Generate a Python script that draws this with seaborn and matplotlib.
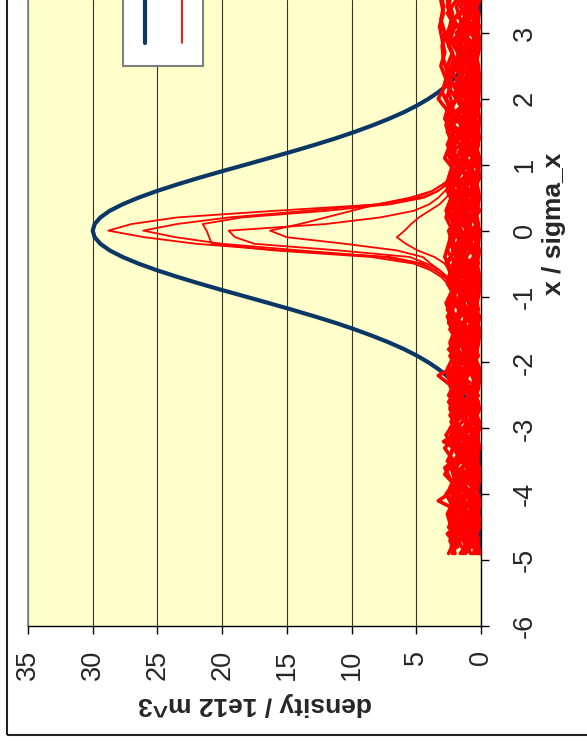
import matplotlib
matplotlib.use("Agg")
import matplotlib.pyplot as plt
from matplotlib.lines import Line2D
from matplotlib.patches import Rectangle
import pandas as pd
import seaborn as sns

# analytic beam profile (blue), x / sigma_x vs density
blue_pos = [-4.9, -4.5, -4.0, -3.5, -3.0, -2.5, -2.4, -2.3, -2.2, -2.1, -2.0, -1.9, -1.8, -1.7,
            -1.6, -1.5, -1.4, -1.3, -1.2, -1.1, -1.0, -0.9, -0.8, -0.7, -0.6, -0.5, -0.4, -0.3,
            -0.2, -0.1, 0.0, 0.1, 0.2, 0.3, 0.4, 0.5, 0.6, 0.7, 0.8, 0.9, 1.0, 1.1, 1.2, 1.3,
            1.4, 1.5, 1.6, 1.7, 1.8, 1.9, 2.0, 2.1, 2.2, 2.3, 2.4, 2.5, 3.0, 3.5, 4.0]
blue_density = [0.0, 0.0, 0.01, 0.07, 0.33, 1.32, 1.68, 2.13, 2.67, 3.30, 4.06, 4.93, 5.93, 7.08,
                8.35, 9.74, 11.24, 12.88, 14.60, 16.39, 18.20, 20.04, 21.81, 23.49, 25.06, 26.47,
                27.69, 28.69, 29.41, 29.85, 30.00, 29.85, 29.41, 28.69, 27.69, 26.47, 25.06, 23.49,
                21.81, 20.04, 18.20, 16.39, 14.60, 12.88, 11.24, 9.74, 8.35, 7.08, 5.93, 4.93,
                4.06, 3.30, 2.67, 2.13, 1.68, 1.32, 0.33, 0.07, 0.01]

# sample positions of the simulated runs (red)
pos_a = [-4.9, -4.7, -4.5, -4.3, -4.1, -3.9, -3.7, -3.5, -3.3, -3.1, -2.9, -2.7, -2.5, -2.3, -2.1,
         -1.9, -1.7, -1.5, -1.3, -1.1, -0.9, -0.7, -0.5, -0.3, -0.1, 0.1, 0.3, 0.5, 0.7, 0.9,
         1.1, 1.3, 1.5, 1.7, 1.9, 2.1, 2.3, 2.5, 2.7, 2.9, 3.1, 3.3, 3.5]
pos_b = [-4.8, -4.6, -4.4, -4.2, -4.0, -3.8, -3.6, -3.4, -3.2, -3.0, -2.8, -2.6, -2.4, -2.2, -2.0,
         -1.8, -1.6, -1.4, -1.2, -1.0, -0.8, -0.6, -0.4, -0.2, 0.0, 0.2, 0.4, 0.6, 0.8, 1.0,
         1.2, 1.4, 1.6, 1.8, 2.0, 2.2, 2.4, 2.6, 2.8, 3.0, 3.2, 3.4, 3.6]
pos_c = [-0.9, -0.8, -0.7, -0.6, -0.5, -0.4, -0.3, -0.2, -0.1, 0.0, 0.1, 0.2, 0.3, 0.4, 0.5,
         0.6, 0.7, 0.8, 0.9]

red_01 = [1.2, 0.4, 1.9, 0.8, 2.1, 0.3, 1.5, 2.2, 0.6, 1.1, 2.0, 0.5, 1.7, 0.9, 2.3, 0.4, 1.3, 1.8,
          0.7, 2.1, 1.0, 0.3, 1.6, 2.2, 0.8, 1.4, 0.5, 2.0, 1.1, 0.6, 1.9, 1.3, 0.4, 2.2, 0.9, 1.5,
          0.3, 1.8, 1.0, 2.1, 0.6, 1.4, 0.8]
red_02 = [0.3, 0.8, 0.2, 0.6, 1.0, 0.4, 0.1, 0.7, 0.3, 0.9, 0.5, 0.2, 0.8, 0.4, 1.1, 0.3, 0.6, 0.2,
          0.9, 0.5, 0.1, 0.7, 0.4, 1.0, 0.3, 0.6, 0.2, 0.8, 0.5, 0.1, 0.9, 0.4, 0.7, 0.2, 0.6, 1.0,
          0.3, 0.5, 0.1, 0.8, 0.4, 0.7, 0.3]
red_03 = [2.0, 2.4, 1.6, 2.5, 1.9, 2.2, 1.4, 2.6, 2.1, 1.7, 2.3, 1.5, 2.5, 2.0, 1.8, 2.4, 1.6, 2.2,
          2.6, 1.9, 2.3, 1.5, 2.7, 2.0, 2.4, 1.7, 2.5, 1.9, 2.2, 1.6, 2.4, 2.0, 2.6, 1.8, 2.3, 1.5,
          2.5, 2.1, 1.7, 2.4, 2.0, 2.6, 1.9]
red_04 = [1.1, 1.7, 0.6, 1.4, 2.0, 0.9, 1.5, 0.5, 1.8, 1.2, 0.7, 1.9, 1.0, 1.6, 0.6, 2.1, 1.3, 0.8,
          1.7, 1.1, 0.5, 1.8, 1.4, 0.9, 2.0, 1.2, 0.7, 1.6, 1.0, 1.9, 0.6, 1.5, 1.1, 2.0, 0.8, 1.3,
          1.7, 0.6, 1.4, 1.9, 1.0, 1.6, 0.9]
red_05 = [1.6, 0.9, 2.2, 1.3, 3.3, 1.8, 0.7, 1.5, 2.0, 0.4, 1.2, 1.9, 0.8, 2.2, 1.4, 0.6, 1.7, 1.1,
          2.0, 0.5, 1.5, 1.0, 1.8, 0.7, 1.3, 2.1, 0.9, 1.6, 0.4, 1.4, 2.0, 0.8, 1.7, 1.2, 0.5, 1.9,
          1.1, 0.7, 1.6, 2.2, 0.9, 1.3, 0.6]
red_06 = [0.7, 1.3, 1.9, 0.5, 1.1, 1.6, 0.3, 1.2, 2.9, 1.0, 0.6, 1.4, 2.0, 3.3, 1.5, 0.8, 1.2, 0.4,
          1.7, 1.0, 1.5, 0.6, 1.9, 1.2, 0.8, 1.4, 2.0, 0.5, 1.1, 1.7, 0.9, 0.3, 1.3, 1.8, 0.7, 1.2,
          0.5, 1.6, 2.0, 0.8, 1.4, 0.6, 1.1]
red_07 = [0.5, 0.2, 0.9, 0.4, 0.7, 0.2, 1.0, 0.5, 0.3, 0.8, 0.2, 0.6, 1.0, 0.3, 0.7, 0.4, 0.2, 0.9,
          0.5, 0.3, 0.8, 0.2, 0.6, 0.4, 1.0, 0.3, 0.7, 0.2, 0.5, 0.9, 0.3, 0.6, 0.2, 0.8, 0.4, 0.2,
          0.7, 0.5, 0.9, 0.3, 0.6, 0.2, 0.5]
red_08 = [1.9, 2.3, 1.5, 2.1, 2.6, 1.8, 2.2, 1.6, 2.4, 2.0, 1.7, 2.5, 1.9, 2.2, 1.6, 2.3, 2.0, 1.8,
          2.6, 2.1, 1.7, 2.4, 1.9, 2.2, 2.5, 1.8, 2.1, 2.6, 1.9, 2.3, 2.0, 2.4, 2.7, 2.5, 3.3, 2.8,
          2.6, 2.9, 3.0, 2.8, 3.1, 2.9, 3.1]
red_09 = [1.4, 0.8, 1.2, 1.8, 0.6, 1.3, 2.0, 1.0, 0.5, 1.6, 1.1, 2.1, 0.7, 1.3, 1.8, 1.0, 0.6, 1.5,
          1.2, 1.9, 0.8, 1.4, 1.0, 1.7, 0.6, 1.2, 1.8, 1.0, 2.0, 0.7, 1.3, 1.6, 1.0, 0.6, 1.5, 2.0,
          1.2, 0.8, 1.4, 1.0, 1.8, 0.7, 1.3]
red_10 = [0.9, 0.4, 1.3, 0.7, 0.2, 1.1, 0.6, 1.4, 0.3, 0.9, 1.2, 0.5, 0.8, 0.2, 1.0, 0.6, 1.3, 0.4,
          0.8, 1.1, 0.3, 0.9, 0.6, 0.2, 1.2, 0.7, 0.4, 1.0, 1.3, 0.5, 0.8, 1.1, 0.3, 0.7, 1.2, 0.4,
          0.9, 1.3, 0.6, 0.2, 1.0, 0.5, 0.8]
red_11 = [2.2, 1.7, 2.5, 2.0, 2.4, 1.8, 2.8, 2.1, 2.8, 1.9, 2.3, 1.6, 2.1, 2.5, 1.9, 2.2, 1.7, 2.4,
          2.0, 2.5, 1.8, 2.3, 2.6, 2.0, 2.2, 1.9, 2.5, 2.1, 2.7, 2.3, 2.0, 2.6, 2.2, 2.8, 2.5, 3.0,
          2.7, 3.1, 2.8, 3.0, 3.2, 2.9, 3.1]
red_12 = [1.5, 2.0, 1.0, 1.7, 1.2, 2.2, 0.8, 1.6, 1.3, 1.9, 1.0, 1.5, 2.1, 1.2, 1.8, 0.9, 1.4, 2.0,
          1.1, 1.6, 1.9, 1.2, 1.7, 1.0, 1.5, 2.1, 1.3, 0.9, 1.8, 1.4, 2.2, 1.0, 1.6, 1.3, 1.9, 1.1,
          1.7, 1.4, 2.1, 1.2, 1.6, 1.9, 1.3]
red_13 = [0.3, 0.6, 0.1, 0.5, 0.9, 0.3, 0.6, 0.2, 0.8, 0.4, 0.1, 0.7, 0.3, 0.5, 0.9, 0.2, 0.6, 0.3,
          0.1, 0.7, 0.4, 0.8, 0.2, 0.5, 0.3, 0.9, 0.1, 0.6, 0.4, 0.2, 0.7, 0.3, 0.9, 0.5, 0.1, 0.4,
          0.8, 0.2, 0.6, 0.3, 0.7, 0.4, 0.2]
red_14 = [1.8, 2.6, 1.4, 2.0, 1.6, 2.3, 2.8, 1.5, 2.1, 1.7, 2.4, 1.3, 1.9, 2.2, 1.6, 2.5, 1.4, 2.0,
          1.7, 2.3, 1.5, 2.1, 1.8, 2.4, 1.6, 2.0, 2.3, 1.5, 2.2, 1.8, 2.5, 1.7, 2.1, 2.4, 1.9, 2.6,
          2.2, 2.0, 2.5, 2.3, 2.1, 2.6, 2.4]
red_15 = [0.8, 1.3, 0.5, 1.0, 1.5, 0.7, 0.4, 1.2, 0.9, 1.6, 0.5, 1.1, 0.4, 1.4, 0.8, 1.2, 1.6, 0.6,
          1.0, 0.4, 1.3, 0.7, 1.1, 1.5, 0.5, 0.9, 1.4, 0.6, 1.2, 1.0, 0.5, 1.5, 0.8, 1.1, 0.4, 1.3,
          0.6, 1.0, 0.5, 1.4, 0.8, 1.2, 0.6]
red_16 = [2.3, 1.9, 2.4, 2.1, 2.7, 2.0, 2.3, 1.8, 2.5, 2.2, 1.9, 2.4, 2.1, 2.6, 2.0, 2.3, 1.8, 2.5,
          2.2, 2.0, 2.6, 2.3, 2.8, 2.5, 2.2, 2.7, 2.4, 2.1, 2.5, 2.2, 2.6, 2.0, 2.4, 2.2, 2.7, 2.3,
          2.5, 2.1, 2.4, 2.6, 2.2, 2.5, 2.3]
red_17 = [0.6, 0.2, 0.4, 0.8, 0.3, 0.5, 0.1, 0.4, 0.7, 0.2, 0.5, 0.3, 0.8, 0.1, 0.4, 0.6, 0.2, 0.5,
          0.8, 0.3, 0.1, 0.5, 0.3, 0.7, 0.2, 0.4, 0.6, 0.1, 0.3, 0.7, 0.5, 0.2, 0.4, 0.1, 0.6, 0.3,
          0.5, 0.8, 0.2, 0.4, 0.1, 0.6, 0.3]
red_18 = [1.3, 0.9, 1.7, 1.1, 0.6, 1.8, 1.4, 1.0, 1.9, 0.7, 1.5, 1.2, 0.8, 1.6, 1.1, 1.9, 0.7, 1.3,
          1.0, 1.7, 1.2, 0.8, 1.5, 1.9, 1.1, 0.7, 1.6, 1.3, 0.9, 1.8, 1.2, 1.5, 0.7, 1.4, 1.0, 1.8,
          0.9, 1.2, 1.7, 1.0, 1.4, 0.8, 1.5]
red_19 = [0.2, 1.0, 1.6, 0.4, 1.3, 2.1, 0.9, 0.2, 1.5, 2.3, 0.6, 1.0, 0.2, 1.8, 0.5, 1.4, 2.2, 0.3,
          1.1, 1.6, 0.2, 1.3, 0.7, 2.0, 1.4, 0.2, 1.2, 0.4, 1.7, 2.2, 0.5, 1.0, 1.8, 0.6, 1.2, 0.2,
          1.5, 2.0, 0.4, 1.1, 1.7, 0.2, 1.0]
red_20 = [2.1, 1.2, 0.5, 1.8, 0.9, 0.2, 2.0, 1.3, 0.7, 2.4, 1.5, 0.3, 1.1, 1.9, 0.4, 1.0, 2.2, 1.4,
          0.2, 0.9, 1.8, 2.3, 0.3, 1.5, 0.9, 2.2, 0.6, 1.9, 0.2, 1.1, 1.7, 0.4, 2.3, 1.0, 0.3, 1.6,
          2.2, 0.9, 0.3, 1.5, 2.1, 0.9, 0.4]
red_21 = [0.1, 0.3, 0.6, 0.2, 0.1, 0.4, 0.2, 0.7, 0.1, 0.3, 0.5, 0.1, 0.4, 0.2, 0.1, 0.5, 0.3, 0.1,
          0.4, 0.6, 0.2, 0.1, 0.3, 0.1, 0.5, 0.2, 0.4, 0.1, 0.6, 0.3, 0.1, 0.4, 0.2, 0.1, 0.3, 0.5,
          0.1, 0.2, 0.4, 0.1, 0.3, 0.5, 0.1]
red_22 = [0.2, 0.5, 0.1, 0.3, 0.6, 0.1, 0.4, 0.2, 0.5, 0.1, 0.3, 0.6, 0.2, 0.1, 0.4, 0.3, 0.1, 0.6,
          0.2, 0.4, 0.1, 0.3, 0.5, 0.2, 0.1, 0.4, 0.3, 0.6, 0.1, 0.2, 0.5, 0.1, 0.3, 0.6, 0.2, 0.1,
          0.4, 0.3, 0.1, 0.5, 0.2, 0.4, 0.1]
red_23 = [2.5, 2.0, 2.3, 2.6, 2.1, 2.4, 1.9, 2.5, 2.2, 2.7, 2.0, 2.4, 2.2, 1.9, 2.6, 2.1, 2.4, 2.0,
          2.3, 2.7, 2.2, 2.5, 2.0, 2.6, 2.3, 2.1, 2.7, 2.3, 2.5, 2.0, 2.8, 2.4, 2.1, 2.6, 2.2, 2.5,
          2.3, 2.6, 2.2, 2.7, 2.4, 2.2, 2.6]
red_24 = [1.0, 1.6, 2.2, 1.2, 0.7, 1.5, 2.0, 1.1, 1.7, 0.8, 1.4, 2.2, 1.6, 1.0, 1.3, 2.0, 1.0, 1.6,
          2.3, 1.4, 0.9, 1.7, 1.1, 1.5, 2.1, 1.0, 1.7, 1.2, 2.0, 0.9, 1.4, 1.9, 1.2, 0.8, 1.6, 2.1,
          1.3, 1.8, 1.0, 1.5, 2.2, 1.2, 1.7]

# runs that still show a central spike
peak_1 = [2.0, 2.4, 2.8, 3.6, 4.5, 7.0, 15.5, 22.0, 26.0, 28.8, 27.0, 23.5, 16.0, 7.8, 4.6, 3.4,
          2.6, 2.0, 1.6]
peak_2 = [1.8, 2.2, 2.9, 3.5, 4.8, 7.5, 14.0, 20.0, 23.6, 26.1, 23.5, 19.5, 13.5, 8.0, 5.0, 3.8,
          3.0, 2.3, 1.7]
peak_3 = [2.1, 2.6, 3.1, 3.9, 5.2, 8.5, 16.0, 20.8, 21.0, 21.2, 21.5, 18.5, 12.0, 7.0, 4.4, 3.3,
          2.7, 2.1, 1.8]
peak_4 = [1.9, 2.3, 2.7, 3.2, 4.2, 5.5, 11.0, 17.5, 19.0, 19.5, 12.0, 7.8, 5.2, 4.0, 3.3, 2.8,
          2.4, 2.0, 1.6]
peak_5 = [1.7, 2.1, 2.6, 3.2, 3.9, 4.5, 6.5, 10.5, 15.0, 16.3, 14.0, 12.0, 10.0, 8.0, 5.5, 3.8,
          2.9, 2.2, 1.8]
peak_6 = [1.5, 1.9, 2.2, 2.5, 2.8, 3.6, 4.9, 5.8, 6.5, 5.9, 5.4, 4.8, 4.0, 3.2, 2.7, 2.3, 2.0,
          1.7, 1.4]

density_ticks = [0, 5, 10, 15, 20, 25, 30, 35]
pos_ticks = [-6, -5, -4, -3, -2, -1, 0, 1, 2, 3]

band_runs = [
    (pos_a, red_01), (pos_b, red_02), (pos_a, red_03), (pos_b, red_04), (pos_a, red_05),
    (pos_b, red_06), (pos_a, red_07), (pos_b, red_08), (pos_a, red_09), (pos_b, red_10),
    (pos_a, red_11), (pos_b, red_12), (pos_a, red_13), (pos_b, red_14), (pos_a, red_15),
    (pos_b, red_16), (pos_a, red_17), (pos_b, red_18), (pos_a, red_19), (pos_b, red_20),
    (pos_a, red_21), (pos_b, red_22), (pos_a, red_23), (pos_b, red_24),
]
peak_runs = [(pos_c, peak_1), (pos_c, peak_2), (pos_c, peak_3), (pos_c, peak_4),
             (pos_c, peak_5), (pos_c, peak_6)]


def runs_frame(runs):
    return pd.concat(
        [pd.DataFrame({"pos": p, "density": d, "run": i}) for i, (p, d) in enumerate(runs)],
        ignore_index=True,
    )


band_df = runs_frame(band_runs)
peak_df = runs_frame(peak_runs)
blue_df = pd.DataFrame({"pos": blue_pos, "density": blue_density})

sns.set_theme(style="ticks")
plt.rcParams["font.family"] = ["Liberation Sans", "DejaVu Sans"]
plt.rcParams["axes.unicode_minus"] = False

W, H = 587, 744
fig = plt.figure(figsize=(W / 100, H / 100), dpi=100)
fig.patch.set_facecolor("white")
ax = fig.add_axes([28 / W, (H - 626) / H, (481 - 28) / W, 626 / H])
ax.set_facecolor("#FFFFCC")

blue = "#0b3765"
red = "#ff0000"
sns.lineplot(data=blue_df, x="density", y="pos", orient="y", sort=False, estimator=None,
             color=blue, lw=3.0, ax=ax, zorder=3)
sns.lineplot(data=band_df, x="density", y="pos", units="run", orient="y", sort=False,
             estimator=None, color=red, lw=2.6, ax=ax, zorder=4)
sns.lineplot(data=peak_df, x="density", y="pos", units="run", orient="y", sort=False,
             estimator=None, color=red, lw=1.3, ax=ax, zorder=4)

ax.set_xlim(35, 0)
ax.set_ylim(-6, 3.5)
ax.set_xticks(density_ticks)
ax.set_yticks(pos_ticks)
ax.grid(True, axis="x", color="#333333", lw=0.8)
ax.grid(False, axis="y")
ax.set_axisbelow(True)

ax.yaxis.tick_right()
ax.yaxis.set_label_position("right")
ax.tick_params(axis="x", direction="out", length=6, width=1, color="black", pad=11,
               labelsize=19.5, labelrotation=90)
ax.tick_params(axis="y", direction="out", length=6, width=1, color="black", pad=16,
               labelsize=19.5, labelrotation=90)
for lbl in ax.get_yticklabels():
    lbl.set_va("center")

ax.spines["top"].set_visible(False)
ax.spines["left"].set_color("#808080")
ax.spines["left"].set_linewidth(1.2)
for side in ["right", "bottom"]:
    ax.spines[side].set_color("black")
    ax.spines[side].set_linewidth(1.0)

ax.set_xlabel("density / 1e12 m^3", fontsize=19, fontweight="bold", rotation=180)
ax.set_ylabel("x / sigma_x", fontsize=19, fontweight="bold", rotation=90)
ax.xaxis.set_label_coords(0.5, -0.105)
ax.yaxis.set_label_coords(1.135, 0.642)

# legend box (its text lies beyond the top edge)
fig.add_artist(Rectangle((123 / W, (H - 66) / H), 80 / W, 0.2, transform=fig.transFigure,
                         facecolor="white", edgecolor="#808080", lw=1.5, zorder=10))
fig.add_artist(Line2D([145 / W, 145 / W], [(H - 43) / H, 1.02], transform=fig.transFigure,
                      color=blue, lw=3.0, zorder=11))
fig.add_artist(Line2D([182 / W, 182 / W], [(H - 43) / H, 1.02], transform=fig.transFigure,
                      color=red, lw=1.3, zorder=11))

# chart area border
fig.add_artist(Rectangle((7 / W, 9 / H), 1.2, 1.2, transform=fig.transFigure,
                         fill=False, edgecolor="#222222", lw=1.5, zorder=12))

fig.savefig("out.png", dpi=100)
